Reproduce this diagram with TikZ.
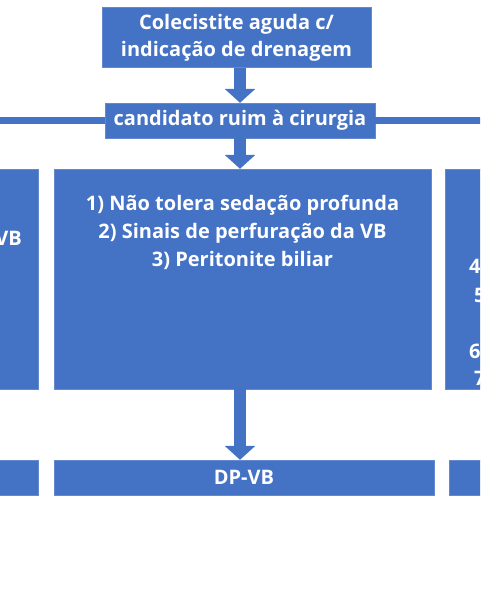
\documentclass[tikz,border=0pt]{standalone}
\usepackage{fontspec}
\setmainfont{Open Sans}
\definecolor{boxblue}{HTML}{4472C4}
\definecolor{boxedge}{HTML}{6489CE}
\usetikzlibrary{positioning, arrows.meta}
\tikzset{
	bluebox/.style={
			rectangle,
			draw=boxedge,
			fill=boxblue,
			text=white,
			font=\bfseries\fontsize{20}{27}\selectfont,
			align=center,
			inner sep=0pt
		},
	boxtext/.style={
			text=white,
			font=\bfseries\fontsize{20}{28}\selectfont,
			align=center,
			inner sep=0pt
		},
	blockarrow/.style={
			draw=boxblue,
			line width=12pt,
			-{Triangle[width=30pt,length=14pt]}
		},
	branchline/.style={
			draw=boxblue,
			line width=6pt
		}
}

\begin{document}
\begin{tikzpicture}[x=1pt, y=-1pt]
\useasboundingbox (0,0) rectangle (480,615);
\clip (0,0) rectangle (480,615);

% top row
\node[bluebox, minimum width=269pt, minimum height=60pt] (colec) at (236.5,37.5)
  {Colecistite aguda c/\\indicação de drenagem};
\node[bluebox, minimum width=270pt, minimum height=35pt] (cand) at (240,120.5)
  {candidato ruim à cirurgia};

% three branches
\node[bluebox, minimum width=60pt, minimum height=220pt] (left) at (8,279) {};
\node[bluebox, minimum width=377pt, minimum height=220pt] (mid) at (242.5,279) {};
\node[bluebox, minimum width=60pt, minimum height=220pt] (right) at (475,279) {};

\node[boxtext, below=26pt of mid.north] (midtext)
  {1) Não tolera sedação profunda\\2) Sinais de perfuração da VB\\3) Peritonite biliar};
\node[boxtext, anchor=east] (lefttext) at (22,238) {VB};
\node[boxtext, anchor=west] (r4) at (469,268) {4)};
\node[boxtext, anchor=west] (r5) at (474,297) {5)};
\node[boxtext, anchor=west] (r6) at (469,353) {6)};
\node[boxtext, anchor=west] (r7) at (474,380) {7)};

% bottom row
\node[bluebox, minimum width=60pt, minimum height=35pt] (leftend) at (8,477.5) {};
\node[bluebox, minimum width=380pt, minimum height=35pt] (dpvb) at (244,477.5) {DP-VB};
\node[bluebox, minimum width=60pt, minimum height=35pt] (rightend) at (479,477.5) {};

% connectors
\coordinate (lend) at (-5,120.5);
\coordinate (rend) at (485,120.5);
\draw[branchline] (lend) -- (cand.west);
\draw[branchline] (cand.east) -- (rend);

\draw[blockarrow] (colec.south -| cand) -- (cand.north);
\draw[blockarrow] (cand.south) -- (mid.north -| cand);
\draw[blockarrow] (mid.south -| cand) -- (dpvb.north -| cand);
\end{tikzpicture}
\end{document}
